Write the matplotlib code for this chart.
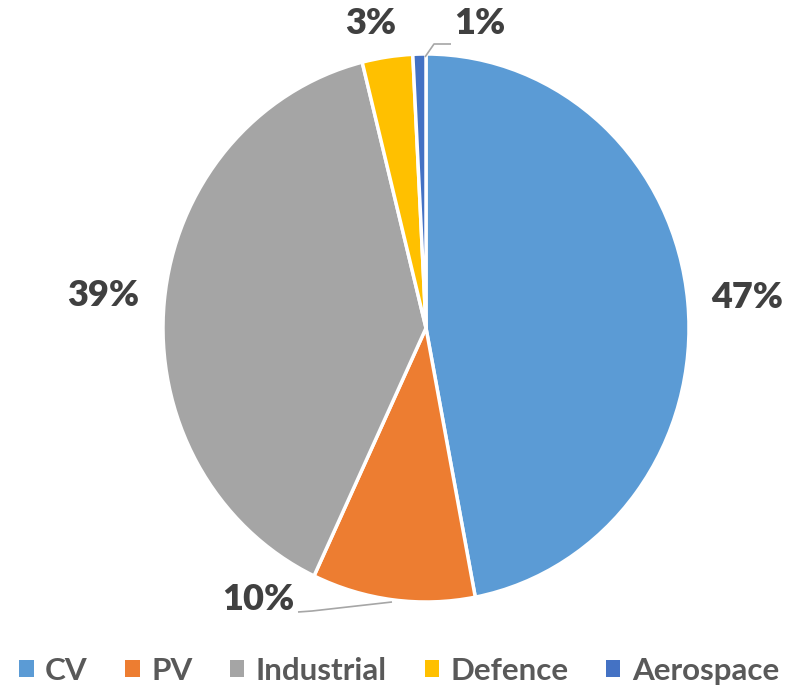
import matplotlib
matplotlib.use("Agg")
import matplotlib.pyplot as plt
from matplotlib.patches import Patch

categories = ["CV", "PV", "Industrial", "Defence", "Aerospace"]
shares = [47.0, 10.0, 39.1, 3.1, 0.8]
colors = ["#5B9BD5", "#ED7D31", "#A5A5A5", "#FFC000", "#4472C4"]
label_texts = ["47%", "10%", "39%", "3%", "1%"]

W, H = 792, 691
cx, cy = 426, 328
rx, ry = 263, 274

fig = plt.figure(figsize=(W / 100, H / 100), dpi=100)
ax = fig.add_axes([0, 0, 1, 1])
wedges, _ = ax.pie(shares, colors=colors, startangle=90, counterclock=False,
                   wedgeprops=dict(edgecolor="white", linewidth=2.5))
ax.set_aspect("auto")
ax.set_xlim(-cx / rx, (W - cx) / rx)
ax.set_ylim(-(H - cy) / ry, cy / ry)
ax.axis("off")

def px(x, y):
    return ((x - cx) / rx, (cy - y) / ry)

label_pos = [(747, 297), (258, 600), (103, 296), (371, 23), (480, 23)]
font = ["Lato", "DejaVu Sans"]
for t, (x, y) in zip(label_texts, label_pos):
    dx, dy = px(x, y)
    ax.text(dx, dy, t, ha="center", va="center", fontsize=26, fontweight="heavy",
            color="#404040", family=font)

# leader lines
for pts in ([(298, 612), (312, 611), (392, 602)], [(425, 57), (434, 44), (451, 44)]):
    xs, ys = zip(*[px(a, b) for a, b in pts])
    ax.plot(xs, ys, color="#A6A6A6", lw=1.2, solid_capstyle="butt")

handles = [Patch(facecolor=c, edgecolor="none") for c in colors]
leg = fig.legend(handles, categories, loc="center", bbox_to_anchor=(0.504, (H - 671) / H),
                 ncol=5, frameon=False, handlelength=0.46, handleheight=0.46,
                 handletextpad=0.36, columnspacing=1.2, borderaxespad=0,
                 prop=dict(family=font, size=22.6, weight="bold"))
for t in leg.get_texts():
    t.set_color("#595959")

fig.savefig("out.png", dpi=100)
